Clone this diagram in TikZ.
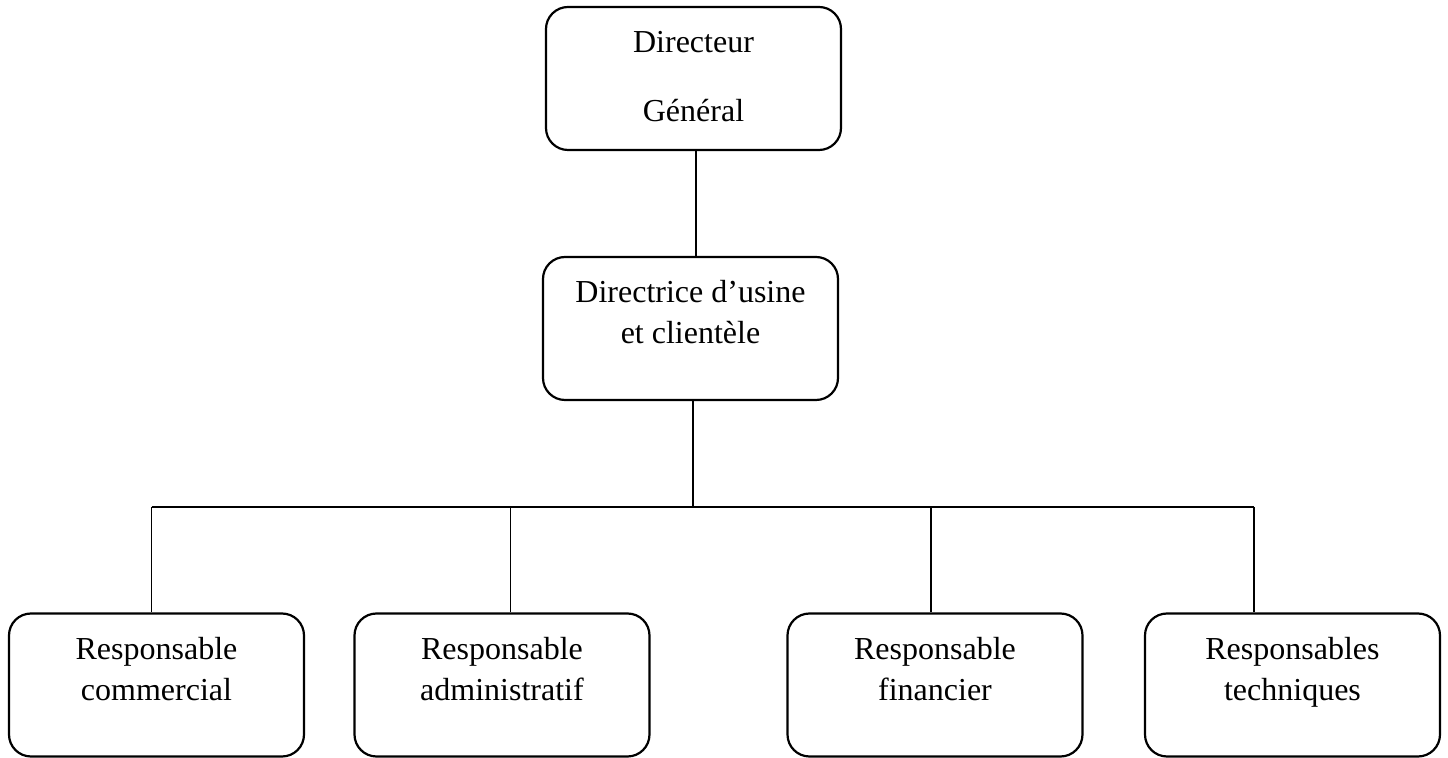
\documentclass[tikz,border=0pt]{standalone}
\usepackage{fontspec}
\setmainfont{Liberation Serif}
\usetikzlibrary{calc}
\begin{document}
\begin{tikzpicture}[x=0.5pt,y=-0.5pt,
  box/.style={draw=black, line width=1.1pt, rounded corners=11pt, minimum width=147.5pt, minimum height=71.5pt, inner sep=0pt},
  txt/.style={anchor=base, inner sep=0pt, font=\fontsize{16}{18}\selectfont},
  link/.style={line width=0.8pt},
  bus/.style={line width=1.1pt}]
\useasboundingbox (0,0) rectangle (1448,758);
% boxes
\node[box] (dg) at (693.5,78.5) {};
\node[box] (du) at (690.5,328.5) {};
\node[box] (rc) at (156.5,685) {};
\node[box] (ra) at (502,685) {};
\node[box] (rf) at (935,685) {};
\node[box] (rt) at (1292.5,685) {};
% texts
\node[txt] (dg1) at (693.5,53) {Directeur};
\node[txt] (dg2) at (693.5,122) {Général};
\node[txt] (du1) at (690.5,303) {Directrice d’usine};
\node[txt] (du2) at (690.5,344) {et clientèle};
\node[txt] (rc1) at (156.5,660) {Responsable};
\node[txt] (rc2) at (156.5,701) {commercial};
\node[txt] (ra1) at (502,660) {Responsable};
\node[txt] (ra2) at (502,701) {administratif};
\node[txt] (rf1) at (935,660) {Responsable};
\node[txt] (rf2) at (935,701) {financier};
\node[txt] (rt1) at (1292.5,660) {Responsables};
\node[txt] (rt2) at (1292.5,701) {techniques};
% connector coordinates
\coordinate (t1) at (696,150);
\coordinate (bj) at (693,507);
\coordinate (b1) at (151.5,507);
\coordinate (b2) at (510.5,507);
\coordinate (b3) at (931,507);
\coordinate (b4) at (1254,507);
% connectors
\draw[link] (t1 |- dg.south) -- (t1 |- du.north);
\draw[link] (bj |- du.south) -- (bj);
\draw[bus] (b1) -- (b4);
\draw[link] (b1) -- (b1 |- rc.north);
\draw[link] (b2) -- (b2 |- ra.north);
\draw[link] (b3) -- (b3 |- rf.north);
\draw[link] (b4) -- (b4 |- rt.north);
\end{tikzpicture}
\end{document}
